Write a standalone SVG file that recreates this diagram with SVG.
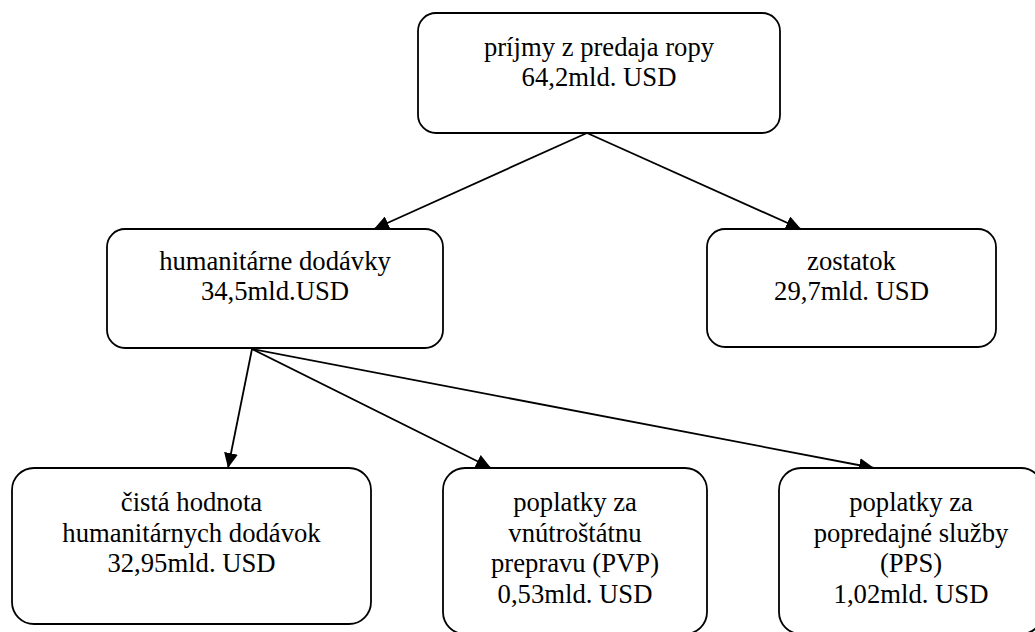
<svg xmlns="http://www.w3.org/2000/svg" width="1035" height="632" viewBox="0 0 1035 632">
<style>
.box{fill:#fff;stroke:#000;stroke-width:1.8}
.lbl{font-family:'Liberation Serif','Tinos','DejaVu Serif',serif;font-size:26.67px;fill:#000;text-anchor:middle}
.edge{stroke:#000;stroke-width:1.8;fill:none}
</style>
<defs>
<marker id="arr" viewBox="0 0 15 14" refX="15" refY="7" markerWidth="15" markerHeight="14" markerUnits="userSpaceOnUse" orient="auto">
<path d="M0,0 L15,7 L0,14 z" fill="#000"/>
</marker>
</defs>
<rect width="1035" height="632" fill="#fff"/>
<g id="connectors">
<line class="edge" x1="587" y1="133" x2="374" y2="229" marker-end="url(#arr)"/>
<line class="edge" x1="587" y1="133" x2="801" y2="229" marker-end="url(#arr)"/>
<line class="edge" x1="252" y1="349" x2="228" y2="468" marker-end="url(#arr)"/>
<line class="edge" x1="252" y1="349" x2="491" y2="468" marker-end="url(#arr)"/>
<line class="edge" x1="252" y1="349" x2="874" y2="468" marker-end="url(#arr)"/>
</g>
<g id="n-prijmy">
<rect class="box" x="418" y="13" width="362" height="120" rx="18" ry="18"/>
<text class="lbl" x="599" y="55.5" font-family="Liberation Serif, serif">príjmy z predaja ropy</text>
<text class="lbl" x="599" y="86" font-family="Liberation Serif, serif">64,2mld. USD</text>
</g>
<g id="n-humanitarne">
<rect class="box" x="107" y="229" width="336" height="119" rx="18" ry="18"/>
<text class="lbl" x="275" y="269.5">humanitárne dodávky</text>
<text class="lbl" x="275" y="300">34,5mld.USD</text>
</g>
<g id="n-zostatok">
<rect class="box" x="707" y="229" width="289" height="118" rx="18" ry="18"/>
<text class="lbl" x="851.5" y="269.5">zostatok</text>
<text class="lbl" x="851.5" y="300">29,7mld. USD</text>
</g>
<g id="n-cista">
<rect class="box" x="12" y="468" width="359" height="156" rx="22" ry="22"/>
<text class="lbl" x="191.5" y="511">čistá hodnota</text>
<text class="lbl" x="191.5" y="541.5">humanitárnych dodávok</text>
<text class="lbl" x="191.5" y="572">32,95mld. USD</text>
</g>
<g id="n-pvp">
<rect class="box" x="443" y="468" width="264" height="166" rx="22" ry="22"/>
<text class="lbl" x="575" y="511">poplatky za</text>
<text class="lbl" x="575" y="541.5">vnútroštátnu</text>
<text class="lbl" x="575" y="572">prepravu (PVP)</text>
<text class="lbl" x="575" y="602.5">0,53mld. USD</text>
</g>
<g id="n-pps">
<rect class="box" x="779" y="468" width="264" height="166" rx="22" ry="22"/>
<text class="lbl" x="911" y="511">poplatky za</text>
<text class="lbl" x="911" y="541.5">popredajné služby</text>
<text class="lbl" x="911" y="572">(PPS)</text>
<text class="lbl" x="911" y="602.5">1,02mld. USD</text>
</g>
</svg>
